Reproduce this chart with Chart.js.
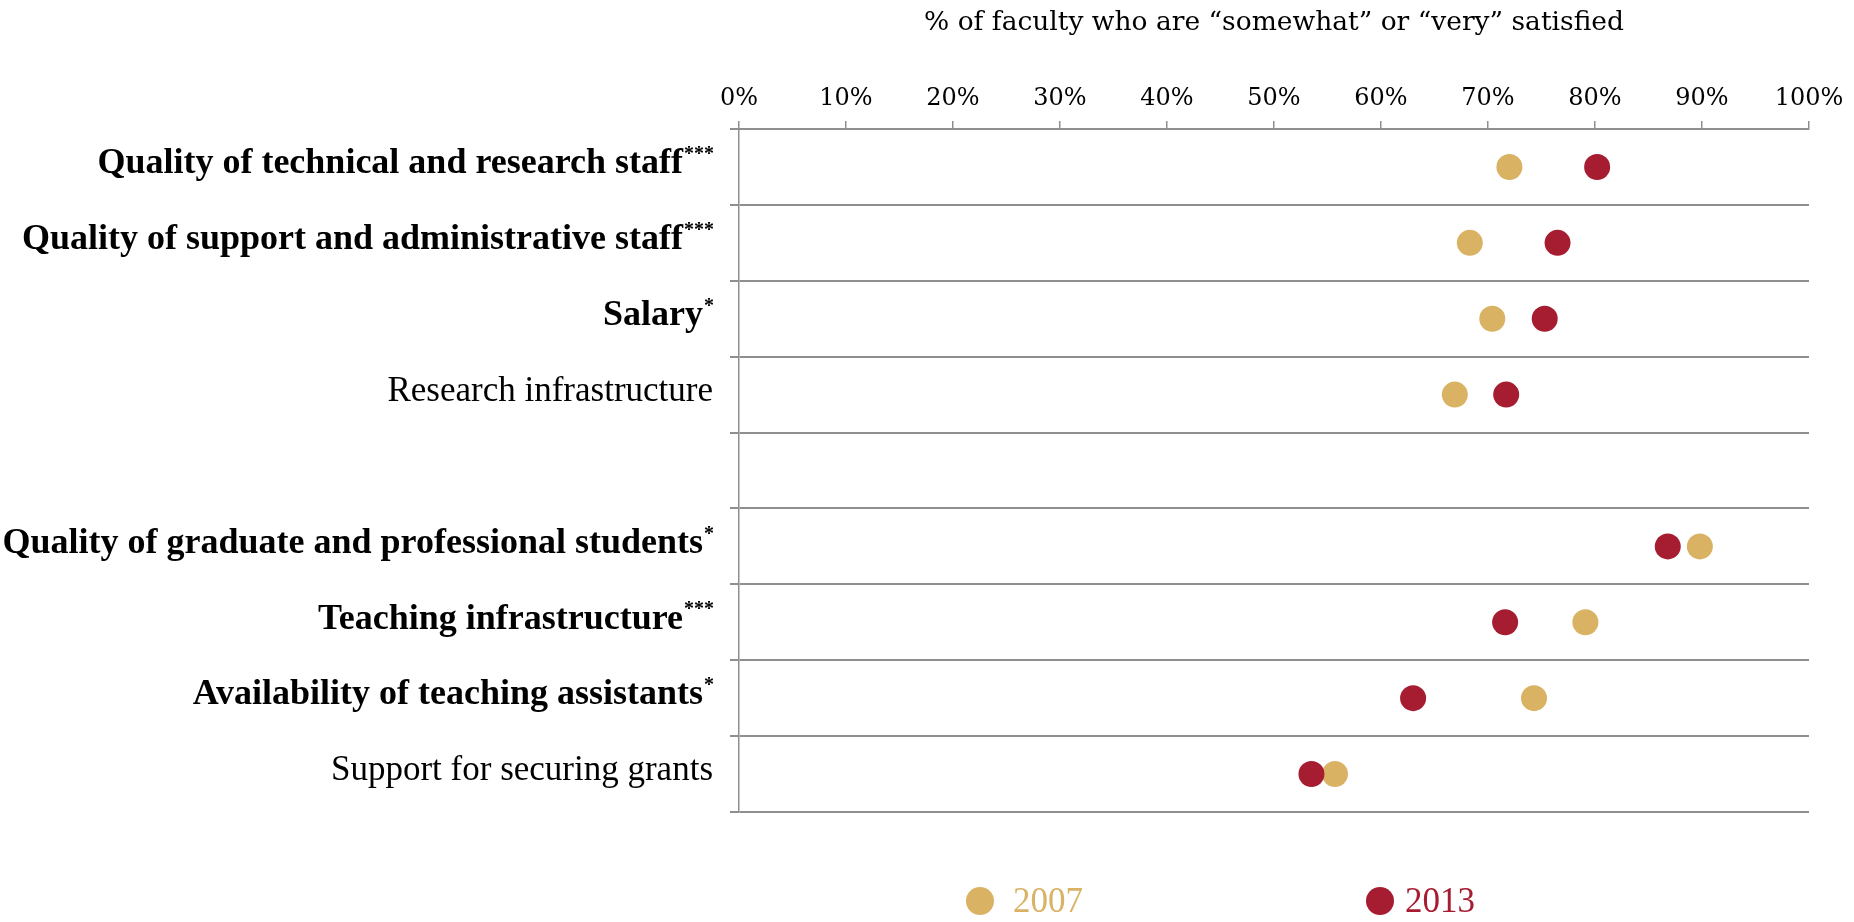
<!DOCTYPE html>
<html>
<head>
    <title>Faculty satisfaction</title>
    <script src="https://cdn.jsdelivr.net/npm/chart.js"></script>
    <style>
      body { margin:0; background:#fff; }
      #wrap { width:1854px; height:922px; position:relative; }
    </style>
</head>
<body>
  <div id="wrap"><canvas id="dotChart"></canvas></div>
  <script>
    // chart data
    const categories = [
      'Quality of technical and research staff',
      'Quality of support and administrative staff',
      'Salary',
      'Research infrastructure',
      '',
      'Quality of graduate and professional students',
      'Teaching infrastructure',
      'Availability of teaching assistants',
      'Support for securing grants'
    ];
    const significance = ['***', '***', '*', '', '', '*', '***', '*', ''];
    const values2007 = [72.0, 68.3, 70.4, 66.9, null, 89.8, 79.1, 74.3, 55.7];
    const values2013 = [80.2, 76.5, 75.3, 71.7, null, 86.8, 71.6, 63.0, 53.5];
    const seriesNames = ['2007', '2013'];
    const seriesColors = ['#d9b264', '#a61c31'];
    const xTickValues = [0, 10, 20, 30, 40, 50, 60, 70, 80, 90, 100];
    const axisTitle = '% of faculty who are \u201csomewhat\u201d or \u201cvery\u201d satisfied';

    const gridGray = '#8f8f8f';

    // row labels with superscript stars, drawn against the category scale
    const rowLabels = {
      id: 'rowLabels',
      afterDraw(chart) {
        const ctx = chart.ctx;
        const yScale = chart.scales.y;
        const right = 714;
        ctx.save();
        ctx.fillStyle = '#000';
        ctx.textBaseline = 'middle';
        categories.forEach((text, i) => {
          if (!text) return;
          const y = yScale.getPixelForValue(i) - 3;
          const stars = significance[i];
          let starW = 0;
          if (stars) {
            ctx.font = 'bold 20px "Liberation Serif"';
            starW = ctx.measureText(stars).width;
            ctx.textAlign = 'left';
            ctx.fillText(stars, right - starW, y - 9);
          }
          ctx.font = (stars ? 'bold 36px' : '35px') + ' "Liberation Serif"';
          ctx.textAlign = 'right';
          ctx.fillText(text, right - starW - 1, y);
        });
        ctx.restore();
      }
    };

    // legend under the chart
    const dotLegend = {
      id: 'dotLegend',
      afterDraw(chart) {
        const ctx = chart.ctx;
        const area = chart.chartArea;
        const y = 901;
        const startX = area.left + 241;
        const step = 400;
        ctx.save();
        ctx.font = '35px "Liberation Serif"';
        ctx.textBaseline = 'middle';
        ctx.textAlign = 'left';
        seriesNames.forEach((name, i) => {
          const cx = startX + i * step;
          ctx.fillStyle = seriesColors[i];
          ctx.beginPath();
          ctx.arc(cx, y, 14, 0, Math.PI * 2);
          ctx.fill();
          ctx.fillText(name, cx + 33 - i * 8, y + 2);
        });
        ctx.restore();
      }
    };

    const ctx = document.getElementById('dotChart').getContext('2d');
    const dotChart = new Chart(ctx, {
      type: 'line',
      data: {
        labels: categories,
        datasets: [{
          label: seriesNames[0],
          data: values2007,
          backgroundColor: seriesColors[0],
          borderColor: seriesColors[0],
          order: 1
        }, {
          label: seriesNames[1],
          data: values2013,
          backgroundColor: seriesColors[1],
          borderColor: seriesColors[1],
          order: 0
        }]
      },
      options: {
        indexAxis: 'y',
        responsive: true,
        maintainAspectRatio: false,
        animation: false,
        showLine: false,
        elements: {
          point: { radius: 13, hoverRadius: 13, borderWidth: 0, pointStyle: 'circle' }
        },
        layout: { padding: { left: 0, top: 0, right: 45, bottom: 110 } },
        plugins: {
          legend: { display: false },
          tooltip: { enabled: false },
          title: { display: false }
        },
        scales: {
          x: {
            type: 'linear',
            position: 'top',
            min: 0,
            max: 100,
            afterBuildTicks: scale => {
              scale.ticks = xTickValues.map(v => ({ value: v }));
            },
            afterFit: scale => { scale.height = 129; },
            ticks: {
              callback: v => v + '%',
              color: '#000',
              padding: 8,
              maxRotation: 0,
              font: { family: 'DejaVu Serif', size: 24 }
            },
            grid: {
              drawOnChartArea: false,
              drawTicks: true,
              tickLength: 8,
              color: gridGray,
              lineWidth: 1.5
            },
            border: { display: true, color: gridGray, width: 2 },
            title: {
              display: true,
              text: axisTitle,
              color: '#000',
              padding: { top: 7, bottom: 0 },
              font: { family: 'DejaVu Serif', size: 26.5 }
            }
          },
          y: {
            type: 'category',
            offset: true,
            afterFit: scale => { scale.width = 739; },
            ticks: { display: false },
            grid: {
              offset: true,
              drawTicks: true,
              tickLength: 9,
              color: gridGray,
              lineWidth: 2
            },
            border: { display: true, color: gridGray, width: 1.5 }
          }
        }
      },
      plugins: [rowLabels, dotLegend]
    });
  </script>
</body>
</html>
